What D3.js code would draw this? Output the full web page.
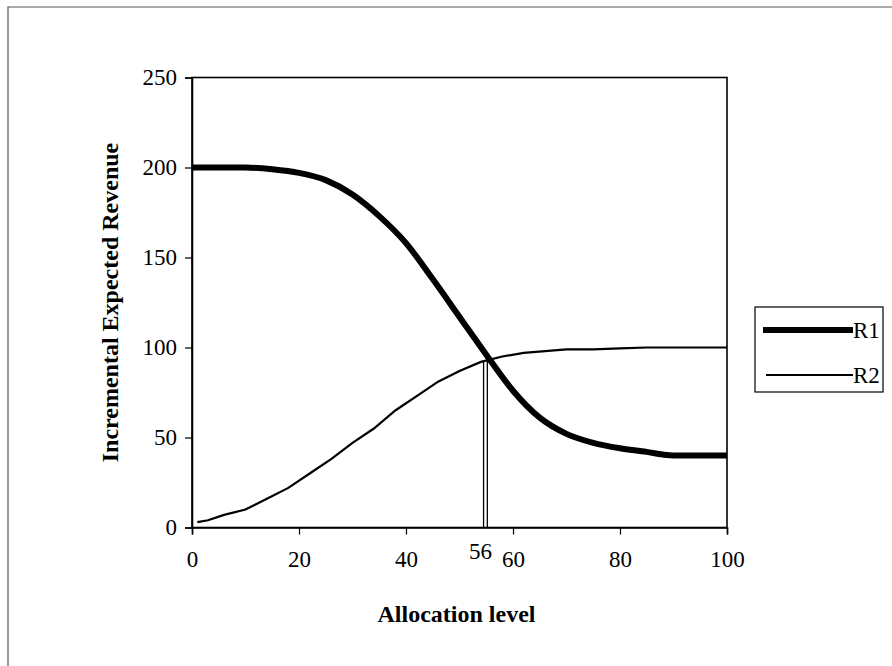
<!DOCTYPE html>
<html><head><meta charset="utf-8">
<script src="https://cdn.jsdelivr.net/npm/d3@7"></script>
<style>body{margin:0;background:#fff}svg{display:block}</style>
</head><body>
<svg id="c" width="892" height="666"></svg>
<script>
const xTicks = [0, 20, 40, 60, 80, 100];
const yTicks = [0, 50, 100, 150, 200, 250];
const r1X = [0, 5, 10, 15, 20, 25, 30, 35, 40, 45, 50, 55, 60, 65, 70, 75, 80, 85, 88, 90, 95, 100];
const r1Y = [200, 200, 200, 199, 197, 193, 185, 173, 158, 138, 117, 96, 76, 61, 52, 47, 44, 42, 40.5, 40, 40, 40];
const r2X = [1, 3, 6, 10, 14, 18, 22, 26, 30, 34, 38, 42, 46, 50, 54, 58, 62, 66, 70, 75, 80, 85, 90, 100];
const r2Y = [3, 4, 7, 10, 16, 22, 30, 38, 47, 55, 65, 73, 81, 87, 92, 95, 97, 98, 99, 99, 99.5, 100, 100, 100];
const markX = [54.5, 55.2];
const markY = 93;
const markLabel = "56";

const svg = d3.select("#c");
const L = 192, R = 727, T = 77.5, B = 527.5;
const x = d3.scaleLinear().domain([0, 100]).range([L, R]);
const y = d3.scaleLinear().domain([0, 250]).range([B, T]);
const font = "'Liberation Serif', 'Times New Roman', serif";
const fs = 23;

// outer frame (left and top edges)
svg.append("path").attr("d", "M8,666 V7 H892").attr("fill", "none").attr("stroke", "#555").attr("stroke-width", 1.2);

// plot box
svg.append("rect").attr("x", L).attr("y", T).attr("width", R - L).attr("height", B - T)
  .attr("fill", "none").attr("stroke", "#000").attr("stroke-width", 1.6);

const xa = svg.append("g").attr("transform", `translate(0,${B})`)
  .call(d3.axisBottom(x).tickValues(xTicks).tickSize(7).tickPadding(16).tickFormat(d3.format("d")));
const ya = svg.append("g").attr("transform", `translate(${L},0)`)
  .call(d3.axisLeft(y).tickValues(yTicks).tickSize(7).tickPadding(8).tickFormat(d3.format("d")));
[xa, ya].forEach(g => {
  g.select(".domain").attr("stroke", "#000").attr("stroke-width", 1.6);
  g.selectAll(".tick line").attr("stroke", "#000").attr("stroke-width", 1.2);
  g.selectAll("text").attr("font-family", font).attr("font-size", fs).attr("fill", "#000");
});
xa.selectAll(".tick text").attr("dy", "0.71em");

// marker double line
markX.forEach(v => {
  svg.append("line").attr("x1", x(v)).attr("x2", x(v)).attr("y1", y(0)).attr("y2", y(markY))
    .attr("stroke", "#000").attr("stroke-width", 1.3);
});
svg.append("text").attr("x", x(d3.mean(markX)) - 5).attr("y", 559).attr("text-anchor", "middle")
  .attr("font-family", font).attr("font-size", fs).text(markLabel);

const line = d3.line().x(d => x(d[0])).y(d => y(d[1]));
svg.append("path").datum(r2X.map((v, i) => [v, r2Y[i]])).attr("d", line)
  .attr("fill", "none").attr("stroke", "#000").attr("stroke-width", 2.2);
svg.append("path").datum(r1X.map((v, i) => [v, r1Y[i]])).attr("d", line.curve(d3.curveMonotoneX))
  .attr("fill", "none").attr("stroke", "#000").attr("stroke-width", 6);

// axis titles
svg.append("text").attr("x", (L + R) / 2 - 3).attr("y", 622).attr("text-anchor", "middle")
  .attr("font-family", font).attr("font-weight", "bold").attr("font-size", 24).text("Allocation level");
svg.append("text").attr("transform", `translate(118,${(T + B) / 2}) rotate(-90)`).attr("text-anchor", "middle")
  .attr("font-family", font).attr("font-weight", "bold").attr("font-size", 24).text("Incremental Expected Revenue");

// legend
const lg = svg.append("g");
lg.append("rect").attr("x", 755).attr("y", 307).attr("width", 128).attr("height", 85)
  .attr("fill", "#fff").attr("stroke", "#000").attr("stroke-width", 1.2);
const items = [["R1", 6, 330, 763], ["R2", 2, 375, 766]];
items.forEach(([name, w, yy, x0]) => {
  lg.append("line").attr("x1", x0).attr("x2", 853).attr("y1", yy).attr("y2", yy)
    .attr("stroke", "#000").attr("stroke-width", w);
  lg.append("text").attr("x", 853).attr("y", yy + 8).attr("font-family", font).attr("font-size", fs).text(name);
});
</script>
</body></html>
